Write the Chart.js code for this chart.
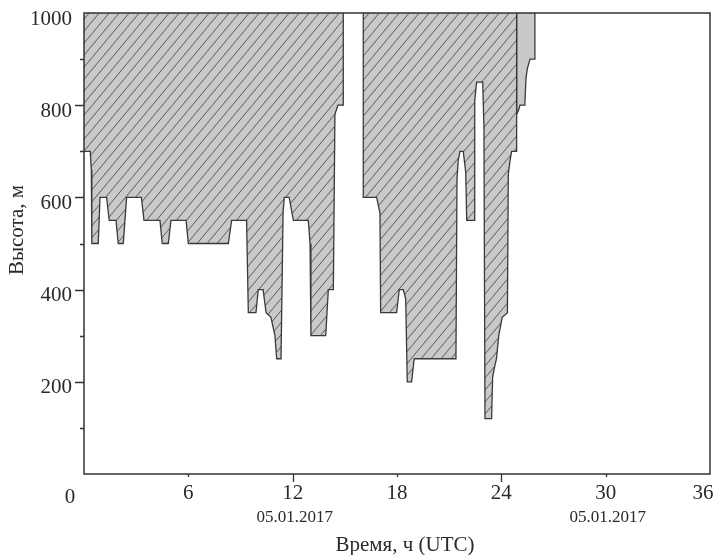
<!DOCTYPE html>
<html>
<head>
<meta charset="utf-8">
<script src="https://cdn.jsdelivr.net/npm/chart.js@4"></script>
<style>
  html, body { margin: 0; padding: 0; background: #fff; }
  #wrap { width: 715px; height: 555px; }
</style>
</head>
<body>
<div id="wrap"><canvas id="cloudChart" width="715" height="555"></canvas></div>
<script>
// hours (UTC) and lower boundary of the cloud layer, m
const hoursA = [0, 0.36, 0.42, 0.45, 0.82, 0.92, 1.3, 1.45, 1.84, 1.97, 2.26, 2.45, 3.3, 3.45, 4.37, 4.5, 4.85, 5.0, 5.87, 6.0, 8.3, 8.49, 9.35, 9.45, 9.89, 10.02, 10.3, 10.47, 10.75, 10.98, 11.08, 11.33, 11.45, 11.52, 11.8, 12.04, 12.9, 13.0, 13.05, 13.9, 14.05, 14.34, 14.43, 14.6, 14.91, 14.91];
const heightsA = [700, 700, 660, 500, 500, 600, 600, 550, 550, 500, 500, 600, 600, 550, 550, 500, 500, 550, 550, 500, 500, 550, 550, 350, 350, 400, 400, 350, 340, 300, 250, 250, 570, 600, 600, 550, 550, 500, 300, 300, 400, 400, 780, 800, 800, 1000];

const hoursB = [16.06, 16.06, 16.83, 17.02, 17.06, 17.98, 18.13, 18.36, 18.5, 18.59, 18.84, 18.99, 21.39, 21.45, 21.52, 21.62, 21.81, 21.95, 22.01, 22.43, 22.47, 22.58, 22.93, 23.0, 23.06, 23.44, 23.5, 23.6, 23.72, 23.85, 24.05, 24.35, 24.4, 24.5, 24.59, 24.88, 24.88];
const heightsB = [1000, 600, 600, 566, 350, 350, 400, 400, 380, 200, 200, 250, 250, 640, 680, 700, 700, 655, 550, 550, 810, 850, 850, 750, 120, 120, 210, 230, 250, 300, 340, 350, 650, 680, 700, 700, 1000];

// layer without hatching (right edge)
const hoursC = [24.88, 24.88, 25.0, 25.07, 25.35, 25.42, 25.5, 25.65, 25.93, 25.93];
const heightsC = [1000, 780, 790, 800, 800, 860, 880, 900, 900, 1000];

const xTicks = [0, 6, 12, 18, 24, 30, 36];
const dateLabels = [{ hour: 12, text: "05.01.2017" }, { hour: 30, text: "05.01.2017" }];
const xTitle = "Время, ч (UTC)";
const yTitle = "Высота, м";

const SERIF = '"Liberation Serif", "DejaVu Serif", serif';
const INK = "#2a2a2a";
const GREY = "#c9c9c9";

function toPoints(xs, ys) {
  return xs.map((x, i) => ({ x, y: ys[i] }));
}

function makeHatch() {
  const c = document.createElement("canvas");
  c.width = 10;
  c.height = 12;
  const g = c.getContext("2d");
  g.fillStyle = GREY;
  g.fillRect(0, 0, c.width, c.height);
  g.strokeStyle = "#4d4d4d";
  g.lineWidth = 0.9;
  for (const dx of [-10, 0, 10]) {
    g.beginPath();
    g.moveTo(dx, 12);
    g.lineTo(dx + 10, 0);
    g.stroke();
  }
  return g.createPattern(c, "repeat");
}

// frame, tick marks and the labels that sit off their ticks
const decorPlugin = {
  id: "decor",
  afterDraw(chart) {
    const { ctx, chartArea: a, scales } = chart;
    const xs = scales.x;
    const ys = scales.y;
    ctx.save();
    ctx.strokeStyle = "#333";
    ctx.lineWidth = 1.5;
    ctx.strokeRect(a.left, a.top, a.right - a.left, a.bottom - a.top);

    ctx.lineWidth = 1.3;
    ctx.beginPath();
    for (const h of xTicks) {
      if (h === 0 || h === 36) continue;
      const px = Math.round(xs.getPixelForValue(h)) + 0.5;
      const len = h % 12 === 0 ? 8 : 3;
      ctx.moveTo(px, a.bottom);
      ctx.lineTo(px, a.bottom + len);
    }
    for (let v = 100; v < 1000; v += 100) {
      const py = Math.round(ys.getPixelForValue(v)) + 0.5;
      const len = v % 200 === 0 ? 9 : 4;
      ctx.moveTo(a.left, py);
      ctx.lineTo(a.left - len, py);
    }
    ctx.stroke();

    ctx.fillStyle = INK;
    ctx.textAlign = "center";
    ctx.textBaseline = "middle";
    ctx.font = "21px " + SERIF;
    ctx.fillText(String(xTicks[0]), a.left - 14, 497);
    ctx.fillText(String(xTicks[xTicks.length - 1]), a.right - 7, 493);
    ctx.font = "17px " + SERIF;
    for (const d of dateLabels) {
      ctx.fillText(d.text, xs.getPixelForValue(d.hour) + 2, 518);
    }
    ctx.font = "21px " + SERIF;
    ctx.fillText(xTitle, 405, 545);
    ctx.translate(17, 230);
    ctx.rotate(-Math.PI / 2);
    ctx.fillText(yTitle, 0, 0);
    ctx.restore();
  },
};

document.addEventListener("DOMContentLoaded", () => {
  const ctx = document.getElementById("cloudChart").getContext("2d");
  const hatch = makeHatch();
  const lineStyle = {
    borderColor: "#3a3a3a",
    borderWidth: 1.3,
    pointRadius: 0,
    tension: 0,
    fill: "end",
  };

  new Chart(ctx, {
    type: "line",
    data: {
      datasets: [
        { ...lineStyle, data: toPoints(hoursA, heightsA), backgroundColor: hatch },
        { ...lineStyle, data: toPoints(hoursB, heightsB), backgroundColor: hatch },
        { ...lineStyle, data: toPoints(hoursC, heightsC), backgroundColor: GREY },
      ],
    },
    options: {
      responsive: false,
      animation: false,
      layout: { padding: { top: 13, right: 5, left: 0, bottom: 0 } },
      plugins: {
        legend: { display: false },
        tooltip: { enabled: false },
      },
      scales: {
        x: {
          type: "linear",
          min: 0,
          max: 36,
          afterBuildTicks(scale) {
            scale.ticks = xTicks.map((v) => ({ value: v }));
          },
          ticks: {
            autoSkip: false,
            maxRotation: 0,
            padding: 7,
            color: INK,
            font: { family: SERIF, size: 21 },
            callback: (v) => (v === 0 || v === 36 ? "" : String(v)),
          },
          grid: { display: false, drawTicks: false },
          border: { display: false },
          afterFit(scale) {
            scale.height = 81;
            scale.paddingLeft = 0;
            scale.paddingRight = 0;
          },
        },
        y: {
          min: 0,
          max: 1000,
          ticks: {
            stepSize: 100,
            autoSkip: false,
            padding: 12,
            labelOffset: 6,
            color: INK,
            font: { family: SERIF, size: 21 },
            callback: (v) => (v > 0 && v % 200 === 0 ? String(v) : ""),
          },
          grid: { display: false, drawTicks: false },
          border: { display: false },
          afterFit(scale) {
            scale.width = 84;
            scale.paddingTop = 0;
            scale.paddingBottom = 0;
          },
        },
      },
    },
    plugins: [decorPlugin],
  });
});
</script>
</body>
</html>
